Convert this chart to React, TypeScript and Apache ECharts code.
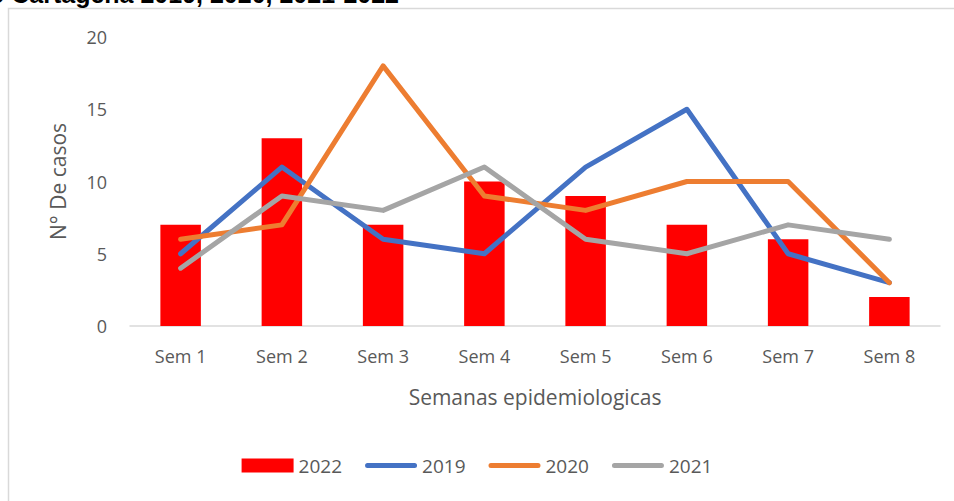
import React, { useEffect, useRef } from "react";
import * as echarts from "echarts";

const categories = ["Sem 1", "Sem 2", "Sem 3", "Sem 4", "Sem 5", "Sem 6", "Sem 7", "Sem 8"];
const s2022 = [7, 13, 7, 10, 9, 7, 6, 2];
const s2019 = [5, 11, 6, 5, 11, 15, 5, 3];
const s2020 = [6, 7, 18, 9, 8, 10, 10, 3];
const s2021 = [4, 9, 8, 11, 6, 5, 7, 6];
const yTicks = { min: 0, max: 20, interval: 5 };

const FONT = "'Open Sans', Lato, sans-serif";
const TXT = "#595959";
const LINE_ICON =
  "path://M0,0 L0.01,0 L0.01,0.01 Z M2.5,4.5 L49.5,4.5 A2.5,2.5 0 0 1 49.5,9.5 L2.5,9.5 A2.5,2.5 0 0 1 2.5,4.5 Z M0,14 L0.01,14 L0.01,13.99 Z";

export default function App() {
  const ref = useRef<HTMLDivElement>(null);
  useEffect(() => {
    if (!ref.current) return;
    const chart = echarts.init(ref.current, null, { renderer: "svg" });
    const line = (name: string, data: number[], color: string) => ({
      name,
      type: "line",
      data,
      symbol: "none",
      showSymbol: false,
      color,
      lineStyle: { width: 5, color, cap: "round", join: "round" },
      z: 3,
    });
    chart.setOption({
      animation: false,
      textStyle: { fontFamily: FONT },
      graphic: [
        {
          type: "rect",
          shape: { x: 8.5, y: 8.5, width: 960, height: 520 },
          style: { fill: "none", stroke: "#D9D9D9", lineWidth: 1.5 },
          silent: true,
        },
        {
          type: "text",
          x: 399,
          y: 6,
          style: {
            text: "o Cartagena 2019, 2020, 2021-2022",
            font: "bold 25px 'Liberation Sans', Arial, sans-serif",
            fill: "#000",
            align: "right",
            verticalAlign: "bottom",
          },
        },
      ],
      grid: { left: 130, right: 14, top: 37, bottom: 175 },
      legend: {
        bottom: 21,
        left: "center",
        itemWidth: 52,
        itemHeight: 14,
        itemGap: 23,
        textStyle: { color: TXT, fontSize: 19, fontFamily: FONT },
        data: [
          { name: "2022", icon: "rect" },
          { name: "2019", icon: LINE_ICON },
          { name: "2020", icon: LINE_ICON },
          { name: "2021", icon: LINE_ICON },
        ],
      },
      xAxis: {
        type: "category",
        data: categories,
        name: "Semanas epidemiologicas",
        nameLocation: "middle",
        nameGap: 60,
        nameTextStyle: { color: TXT, fontSize: 21, fontFamily: FONT },
        axisLine: { lineStyle: { color: "#D9D9D9", width: 1.5 } },
        axisTick: { show: false },
        axisLabel: { color: TXT, fontSize: 18, margin: 21, fontFamily: FONT },
      },
      yAxis: {
        type: "value",
        min: yTicks.min,
        max: yTicks.max,
        interval: yTicks.interval,
        name: "N° De casos",
        nameLocation: "middle",
        nameGap: 62,
        nameTextStyle: { color: TXT, fontSize: 21, fontFamily: FONT },
        splitLine: { show: false },
        axisLine: { show: false },
        axisTick: { show: false },
        axisLabel: { color: TXT, fontSize: 18, margin: 23, fontFamily: FONT },
      },
      series: [
        {
          name: "2022",
          type: "bar",
          data: s2022,
          barWidth: "40%",
          itemStyle: { color: "#FF0000" },
          z: 2,
        },
        line("2019", s2019, "#4472C4"),
        line("2020", s2020, "#ED7D31"),
        line("2021", s2021, "#A5A5A5"),
      ],
    });
    return () => chart.dispose();
  }, []);
  return <div ref={ref} style={{ width: 954, height: 501, position: "absolute", left: 0, top: 0 }} />;
}
